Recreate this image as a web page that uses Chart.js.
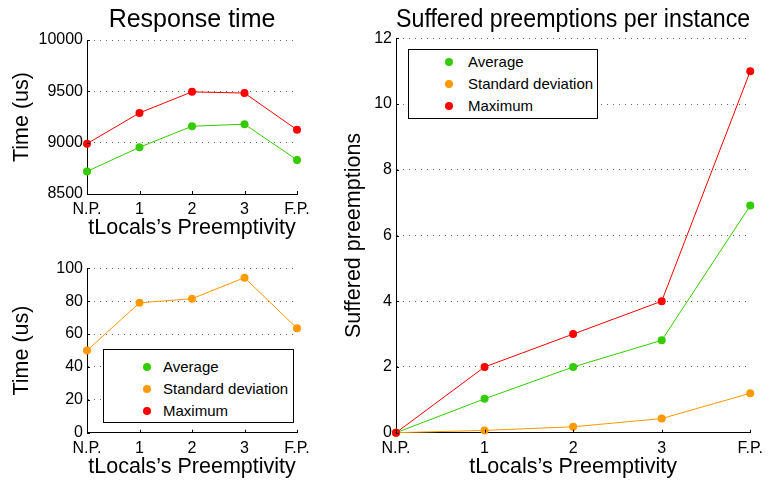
<!DOCTYPE html>
<html>
<head>
<meta charset="utf-8">
<script src="https://cdn.jsdelivr.net/npm/chart.js"></script>
<style>
  html, body { margin: 0; padding: 0; background: #fff; }
  body { position: relative; width: 769px; height: 481px; overflow: hidden; font-family: "Liberation Sans", Arial, sans-serif; }
  canvas { position: absolute; }
  .legend { position: absolute; background: #fff; border: 1px solid #000; box-sizing: border-box; }
  .legend .item { position: absolute; font-size: 15px; line-height: 18px; color: #000; white-space: nowrap; }
  .legend .dot { position: absolute; width: 8px; height: 8px; border-radius: 50%; }
</style>
</head>
<body>
<canvas id="respChart" width="320" height="250" style="left:0;top:0"></canvas>
<canvas id="stdChart" width="320" height="231" style="left:0;top:250px"></canvas>
<canvas id="preChart" width="439" height="481" style="left:330px;top:0"></canvas>
<div class="legend" id="legendLeft" style="left:103px;top:349px;width:191px;height:74px"></div>
<div class="legend" id="legendRight" style="left:408px;top:49px;width:190px;height:70px"></div>

<script>
// categories and values
const categories = ['N.P.', '1', '2', '3', 'F.P.'];
const seriesNames = ['Average', 'Standard deviation', 'Maximum'];
const seriesColors = ['#33cc00', '#ff9900', '#ff0000'];

const respAvg = [8720, 8955, 9160, 9180, 8832];
const respMax = [8990, 9290, 9495, 9483, 9125];
const respStd = [50, 79, 81.5, 94.3, 63.5];

const preAvg = [0, 1.03, 2.0, 2.81, 6.91];
const preStd = [0, 0.07, 0.18, 0.43, 1.2];
const preMax = [0, 2, 3, 4, 11];

const respTicks = [8500, 9000, 9500, 10000];
const stdTicks = [0, 20, 40, 60, 80, 100];
const preTicks = [0, 2, 4, 6, 8, 10, 12];

const FONT = '"Liberation Sans", Arial, sans-serif';
const xTitle = 'tLocals\u2019s Preemptivity';

// matlab style inward tick marks
const inwardTicks = {
  id: 'inwardTicks',
  afterDraw(chart) {
    const { ctx, chartArea, scales } = chart;
    ctx.save();
    ctx.strokeStyle = '#000';
    ctx.lineWidth = 1;
    ctx.beginPath();
    scales.x.ticks.forEach((t, i) => {
      const px = Math.round(scales.x.getPixelForTick(i)) + 0.5;
      ctx.moveTo(px, chartArea.bottom);
      ctx.lineTo(px, chartArea.bottom - 3);
    });
    scales.y.ticks.forEach((t, i) => {
      const py = Math.round(scales.y.getPixelForTick(i)) + 0.5;
      ctx.moveTo(chartArea.left, py);
      ctx.lineTo(chartArea.left + 3, py);
    });
    ctx.stroke();
    ctx.restore();
  }
};

function line(label, data, color, order) {
  return {
    label, data, order,
    borderColor: color,
    backgroundColor: color,
    pointBackgroundColor: color,
    pointBorderColor: color,
    borderWidth: 1,
    pointRadius: 4,
    pointBorderWidth: 0,
    tension: 0,
    clip: false
  };
}

function makeChart(id, opts) {
  return new Chart(document.getElementById(id), {
    type: 'line',
    data: { labels: categories, datasets: opts.datasets },
    plugins: [inwardTicks],
    options: {
      responsive: false,
      animation: false,
      layout: { padding: { top: opts.padTop, right: opts.padRight, left: 0, bottom: 0 } },
      plugins: {
        legend: { display: false },
        tooltip: { enabled: false },
        title: {
          display: !!opts.title,
          text: opts.title,
          fullSize: false,
          color: '#000',
          font: { family: FONT, size: 25, weight: 'normal', lineHeight: 1.2 },
          padding: { top: 5, bottom: opts.titleBottom || 0 }
        }
      },
      scales: {
        x: {
          type: 'category',
          offset: false,
          grid: { display: true, drawOnChartArea: false, drawTicks: false },
          border: { display: true, color: '#000', width: 1 },
          ticks: { color: '#000', padding: 6, maxRotation: 0, autoSkip: false, font: { family: FONT, size: 16 } },
          title: {
            display: true, text: xTitle, color: '#000',
            font: { family: FONT, size: 21.5, lineHeight: 1.2 },
            padding: { top: 0, bottom: opts.xTitlePad }
          },
          afterFit: s => { s.height = opts.xHeight; }
        },
        y: {
          min: opts.yTicks[0],
          max: opts.yTicks[opts.yTicks.length - 1],
          afterBuildTicks: s => { s.ticks = opts.yTicks.map(v => ({ value: v })); },
          grid: { color: '#666', lineWidth: 1, drawTicks: false },
          border: { display: true, color: '#000', width: 1, dash: [1, 5] },
          ticks: { color: '#000', padding: 4, font: { family: FONT, size: 16 }, callback: v => String(v) },
          title: {
            display: true, text: opts.yTitle, color: '#000',
            font: { family: FONT, size: 21.5, lineHeight: 1.2 },
            padding: { top: opts.yTitlePad, bottom: 0 }
          },
          afterFit: s => { s.width = opts.yWidth; }
        }
      }
    }
  });
}

makeChart('respChart', {
  title: 'Response time', titleBottom: 5, padTop: 0, padRight: 23,
  xHeight: 56, xTitlePad: 8.6, yWidth: 87, yTitlePad: 9,
  yTitle: 'Time (us)', yTicks: respTicks,
  datasets: [
    line(seriesNames[2], respMax, seriesColors[2], 1),
    line(seriesNames[0], respAvg, seriesColors[0], 2)
  ]
});

makeChart('stdChart', {
  title: '', padTop: 18.3, padRight: 23,
  xHeight: 48.3, xTitlePad: 1, yWidth: 87, yTitlePad: 9,
  yTitle: 'Time (us)', yTicks: stdTicks,
  datasets: [
    line(seriesNames[1], respStd, seriesColors[1], 1)
  ]
});

makeChart('preChart', {
  title: 'Suffered preemptions per instance', titleBottom: 3.3, padTop: 0, padRight: 13,
  xHeight: 48.3, xTitlePad: 1, yWidth: 66, yTitlePad: 11,
  yTitle: 'Suffered preemptions', yTicks: preTicks,
  datasets: [
    line(seriesNames[2], preMax, seriesColors[2], 1),
    line(seriesNames[0], preAvg, seriesColors[0], 2),
    line(seriesNames[1], preStd, seriesColors[1], 3)
  ]
});

// legends drawn inside the plot like the original
function buildLegend(id, dotX, textX, rowY) {
  const box = document.getElementById(id);
  seriesNames.forEach((name, i) => {
    const dot = document.createElement('div');
    dot.className = 'dot';
    dot.style.background = seriesColors[i];
    dot.style.left = (dotX - 4) + 'px';
    dot.style.top = (rowY[i] - 4) + 'px';
    box.appendChild(dot);
    const item = document.createElement('div');
    item.className = 'item';
    item.textContent = name;
    item.style.left = textX + 'px';
    item.style.top = (rowY[i] - 9) + 'px';
    box.appendChild(item);
  });
}
buildLegend('legendLeft', 43, 59, [17, 39, 61]);
buildLegend('legendRight', 40, 59, [12, 34, 56]);
</script>
</body>
</html>
